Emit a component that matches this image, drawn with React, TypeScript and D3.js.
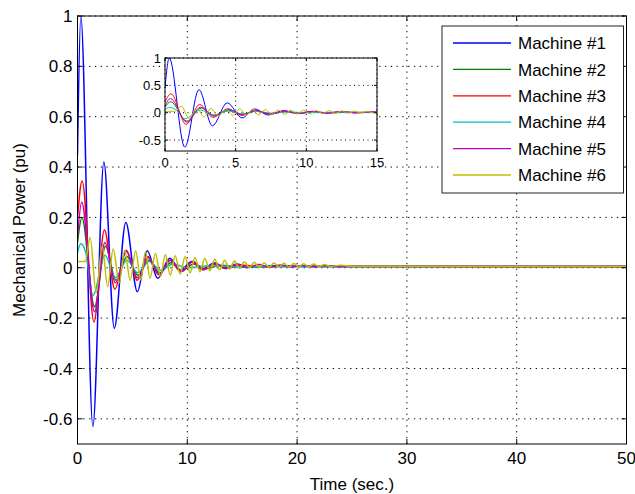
import React from "react";
import * as d3 from "d3";

// ---------- data ----------
const m1T = [0, 0.3, 1.4, 2.4, 3.35, 4.4, 5.45, 6.35, 7.3, 8.4, 9.35, 10.4, 11.4, 12.4, 13.4, 14.6, 16.0, 18.0, 22, 50];
const m1V = [0.45, 1.0, -0.63, 0.42, -0.24, 0.18, -0.095, 0.068, -0.042, 0.038, -0.01, 0.025, -0.005, 0.018, 0.0, 0.012, 0.003, 0.008, 0.005, 0.005];

const m2T = [0, 0.4, 1.55, 2.55, 3.5, 4.5, 5.5, 6.5, 7.5, 8.5, 9.5, 10.6, 11.7, 13, 15, 18, 50];
const m2V = [0.1, 0.2, -0.155, 0.085, -0.05, 0.045, -0.03, 0.03, -0.02, 0.02, -0.01, 0.015, -0.004, 0.01, 0.002, 0.006, 0.005];

const m3T = [0, 0.42, 1.5, 2.45, 3.4, 4.45, 5.45, 6.4, 7.4, 8.4, 9.4, 10.4, 11.4, 12.4, 13.5, 15, 17, 20, 50];
const m3V = [0.2, 0.345, -0.215, 0.15, -0.085, 0.07, -0.05, 0.045, -0.028, 0.03, -0.015, 0.022, -0.008, 0.015, -0.002, 0.01, 0.004, 0.006, 0.005];

const m4T = [0, 0.3, 0.75, 1.4, 2.5, 3.45, 4.5, 5.5, 6.5, 7.6, 8.7, 10, 12, 15, 50];
const m4V = [0.06, 0.095, 0.06, -0.11, 0.05, -0.04, 0.03, -0.02, 0.025, -0.01, 0.015, 0.0, 0.008, 0.004, 0.005];

const m5T = [0, 0.38, 1.55, 2.5, 3.45, 4.45, 5.45, 6.45, 7.45, 8.45, 9.5, 10.5, 11.5, 12.5, 13.5, 14.5, 15.5, 16.5, 17.5, 18.5, 19.5, 20.5, 21.5, 22.5, 24, 50];
const m5V = [0.12, 0.26, -0.175, 0.1, -0.06, 0.065, -0.04, 0.04, -0.025, 0.03, -0.015, 0.025, -0.008, 0.02, -0.004, 0.016, 0.0, 0.013, 0.002, 0.011, 0.003, 0.009, 0.004, 0.008, 0.005, 0.005];

const m6T = [0, 0.7, 1.15, 1.7, 2.25, 2.75, 3.25, 3.8, 4.3, 4.8, 5.3, 5.75, 6.2, 6.6, 7.1, 7.55, 8.0, 8.45, 8.9, 9.35, 9.8, 10.25, 10.7, 11.15, 11.6, 12.05, 12.5, 12.95, 13.4, 13.85, 14.3, 14.75, 15.2, 15.65, 16.1, 16.55, 17.0, 17.45, 17.9, 18.35, 18.8, 19.25, 19.7, 20.15, 20.6, 21.05, 21.5, 22.0, 22.5, 23.0, 24.0, 25.0, 50];
const m6V = [0.025, 0.025, 0.12, -0.1, 0.085, -0.075, 0.075, -0.06, 0.07, -0.05, 0.068, -0.048, 0.064, -0.042, 0.058, -0.035, 0.052, -0.03, 0.048, -0.025, 0.044, -0.02, 0.04, -0.016, 0.037, -0.012, 0.034, -0.008, 0.03, -0.005, 0.027, -0.002, 0.024, 0.0, 0.022, 0.001, 0.02, 0.002, 0.019, 0.003, 0.018, 0.003, 0.017, 0.004, 0.016, 0.004, 0.015, 0.005, 0.013, 0.005, 0.01, 0.006, 0.005];

const seriesNames = ["Machine #1", "Machine #2", "Machine #3", "Machine #4", "Machine #5", "Machine #6"];
const seriesColors = ["#0000ff", "#008000", "#ff0000", "#00bfbf", "#bf00bf", "#bfbf00"];
const seriesT = [m1T, m2T, m3T, m4T, m5T, m6T];
const seriesV = [m1V, m2V, m3V, m4V, m5V, m6V];

const xTicks = [0, 10, 20, 30, 40, 50];
const xTickLabels = ["0", "10", "20", "30", "40", "50"];
const yTicks = [-0.6, -0.4, -0.2, 0, 0.2, 0.4, 0.6, 0.8, 1];
const yTickLabels = ["-0.6", "-0.4", "-0.2", "0", "0.2", "0.4", "0.6", "0.8", "1"];

const insetXTicks = [0, 5, 10, 15];
const insetXTickLabels = ["0", "5", "10", "15"];
const insetYTicks = [-0.5, 0, 0.5, 1];
const insetYTickLabels = ["-0.5", "0", "0.5", "1"];

const xLabel = "Time (sec.)";
const yLabel = "Mechanical Power (pu)";

// ---------- component ----------
const FONT = "'Liberation Sans', Arial, Helvetica, sans-serif";

type Pt = [number, number];

function Panel({ x, y, xTicksP, xLabelsP, yTicksP, yLabelsP, clipId, tMax, fontSize, tickLen, lineW, dash }: any) {
  const [x0, x1] = x.range();
  const [y0, y1] = y.range(); // y0 bottom, y1 top
  const line = d3
    .line<Pt>()
    .x((d) => x(d[0]))
    .y((d) => y(d[1]))
    .curve(d3.curveMonotoneX);
  return (
    <g>
      <rect x={x0} y={y1} width={x1 - x0} height={y0 - y1} fill="#fff" />
      <clipPath id={clipId}>
        <rect x={x0} y={y1} width={x1 - x0} height={y0 - y1} />
      </clipPath>
      {/* grid */}
      {xTicksP.map((t: number, i: number) => (
        <line key={"gx" + i} x1={x(t)} x2={x(t)} y1={y0} y2={y1} stroke="#000" strokeWidth={1} strokeDasharray={dash} />
      ))}
      {yTicksP.map((t: number, i: number) => (
        <line key={"gy" + i} x1={x0} x2={x1} y1={y(t)} y2={y(t)} stroke="#000" strokeWidth={1} strokeDasharray={dash} />
      ))}
      {/* series */}
      <g clipPath={`url(#${clipId})`}>
        {seriesT.map((ts, si) => {
          const pts: Pt[] = ts.map((t, k) => [t, seriesV[si][k]] as Pt);
          const lastIdx = pts.findIndex((p) => p[0] > tMax);
          const used = lastIdx === -1 ? pts : pts.slice(0, lastIdx + 1);
          return (
            <path key={"s" + si} d={line(used) || ""} fill="none" stroke={seriesColors[si]} strokeWidth={lineW} strokeLinejoin="round" />
          );
        })}
      </g>
      {/* box */}
      <rect x={x0} y={y1} width={x1 - x0} height={y0 - y1} fill="none" stroke="#000" strokeWidth={1} />
      {/* ticks */}
      {xTicksP.map((t: number, i: number) => (
        <g key={"tx" + i}>
          <line x1={x(t)} x2={x(t)} y1={y0} y2={y0 - tickLen} stroke="#000" />
          <line x1={x(t)} x2={x(t)} y1={y1} y2={y1 + tickLen} stroke="#000" />
          <text x={x(t)} y={y0 + fontSize * 1.2} textAnchor="middle" fontSize={fontSize} fontFamily={FONT} fill="#000">
            {xLabelsP[i]}
          </text>
        </g>
      ))}
      {yTicksP.map((t: number, i: number) => (
        <g key={"ty" + i}>
          <line x1={x0} x2={x0 + tickLen} y1={y(t)} y2={y(t)} stroke="#000" />
          <line x1={x1} x2={x1 - tickLen} y1={y(t)} y2={y(t)} stroke="#000" />
          <text x={x0 - fontSize * 0.3} y={y(t)} dy="0.36em" textAnchor="end" fontSize={fontSize} fontFamily={FONT} fill="#000">
            {yLabelsP[i]}
          </text>
        </g>
      ))}
    </g>
  );
}

export default function App() {
  const W = 635;
  const H = 494;
  const x = d3.scaleLinear().domain([0, 50]).range([77.5, 626.5]);
  const y = d3.scaleLinear().domain([-0.7, 1]).range([444, 16]);
  const ix = d3.scaleLinear().domain([0, 15]).range([165, 377]);
  const iy = d3.scaleLinear().domain([-0.7, 1]).range([151, 58]);

  const legX = 442;
  const legY = 26;
  const legW = 181.5;
  const legH = 167;
  const rowH = 26.4;

  return (
    <svg width={W} height={H} style={{ position: "absolute", left: 0, top: 0, background: "#fff" }}>
      <rect x={0} y={0} width={W} height={H} fill="#fff" />
      <Panel x={x} y={y} xTicksP={xTicks} xLabelsP={xTickLabels} yTicksP={yTicks} yLabelsP={yTickLabels} clipId="clipMain" tMax={50} fontSize={17} tickLen={5} lineW={1.5} dash="1.3,4.5" />
      <text x={(77.5 + 626.5) / 2} y={490} textAnchor="middle" fontSize={17} fontFamily={FONT} fill="#000">
        {xLabel}
      </text>
      <text transform={`translate(25,230) rotate(-90)`} textAnchor="middle" fontSize={17} fontFamily={FONT} fill="#000">
        {yLabel}
      </text>

      <Panel x={ix} y={iy} xTicksP={insetXTicks} xLabelsP={insetXTickLabels} yTicksP={insetYTicks} yLabelsP={insetYTickLabels} clipId="clipInset" tMax={15} fontSize={13} tickLen={3} lineW={1} dash="1,3.5" />

      {/* legend */}
      <g>
        <rect x={legX} y={legY} width={legW} height={legH} fill="#fff" stroke="#222" strokeWidth={1} />
        {seriesNames.map((n, i) => (
          <g key={"lg" + i}>
            <line x1={legX + 11} x2={legX + 69} y1={legY + 17 + i * rowH} y2={legY + 17 + i * rowH} stroke={seriesColors[i]} strokeWidth={1.3} />
            <text x={legX + 76} y={legY + 17 + i * rowH} dy="0.36em" fontSize={17} fontFamily={FONT} fill="#000">
              {n}
            </text>
          </g>
        ))}
      </g>
    </svg>
  );
}
